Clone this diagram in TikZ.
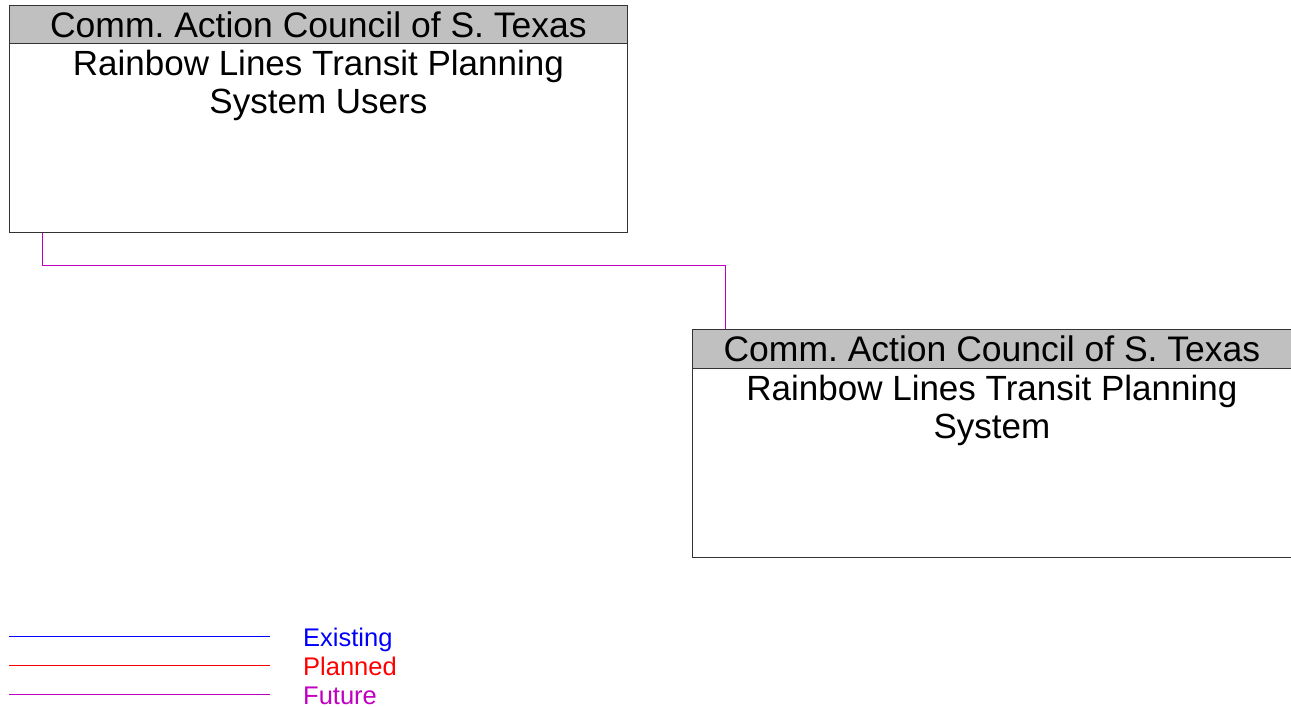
\documentclass[tikz,border=0pt]{standalone}
\usepackage{fontspec}
\setmainfont{Liberation Sans}
\usetikzlibrary{calc, positioning}
\frenchspacing

\definecolor{headgray}{RGB}{192,192,192}
\definecolor{existcol}{RGB}{0,0,255}
\definecolor{plancol}{RGB}{255,0,0}
\definecolor{futurecol}{RGB}{192,0,192}

\tikzset{
  headbox/.style={draw=black!80, fill=headgray, line width=0.8pt, minimum height=38pt, inner sep=0pt, font=\fontsize{35.5}{38}\selectfont},
  bodybox/.style={draw=black!80, line width=0.8pt, inner sep=0pt},
  bodytext/.style={align=center, inner sep=0pt, font=\fontsize{35}{38.5}\selectfont},
  legendtext/.style={inner sep=0pt, font=\fontsize{25.5}{28}\selectfont},
  legendline/.style={line width=1pt},
  future/.style={draw=futurecol, line width=0.9pt}
}

\begin{document}
\begin{tikzpicture}[x=1pt, y=-1pt]
\useasboundingbox (0,0) rectangle (1291,707);

% upper box: planning system users
\node[bodybox, minimum width=618pt, minimum height=227pt, anchor=north west] (usersbody) at (9,5) {};
\node[headbox, minimum width=618pt, anchor=north west] (usershead) at (9,5) {Comm. Action Council of S. Texas};
\node[bodytext, anchor=north, yshift=-6pt] (userslabel) at (usershead.south) {Rainbow Lines Transit Planning\\System Users};

% lower box: planning system
\node[bodybox, minimum width=599pt, minimum height=228pt, anchor=north west] (sysbody) at (692,329) {};
\node[headbox, minimum width=599pt, minimum height=39pt, anchor=north west] (syshead) at (692,329) {Comm. Action Council of S. Texas};
\node[bodytext, anchor=north, yshift=-6pt] (syslabel) at (syshead.south) {Rainbow Lines Transit Planning\\System};

% connector (future)
\coordinate (usersport) at ($(usersbody.south west)+(33,0)$);
\coordinate (sysport) at ($(syshead.north west)+(33,0)$);
\coordinate (bend) at (0,265);
\draw[future] (usersport) -- (usersport |- bend) -- (sysport |- bend) -- (sysport);

% legend
\coordinate (legExista) at (9,636.5);  \coordinate (legExistb) at (270,636.5);
\coordinate (legPlana) at (9,665.5);   \coordinate (legPlanb) at (270,665.5);
\coordinate (legFuta) at (9,694.5);    \coordinate (legFutb) at (270,694.5);
\draw[legendline, existcol] (legExista) -- (legExistb);
\draw[legendline, plancol] (legPlana) -- (legPlanb);
\draw[legendline, futurecol] (legFuta) -- (legFutb);
\node[legendtext, text=existcol, anchor=base west] (legExist) at (303,646) {Existing};
\node[legendtext, text=plancol, anchor=base west] (legPlan) at (303,675) {Planned};
\node[legendtext, text=futurecol, anchor=base west] (legFut) at (303,704) {Future};
\end{tikzpicture}
\end{document}
